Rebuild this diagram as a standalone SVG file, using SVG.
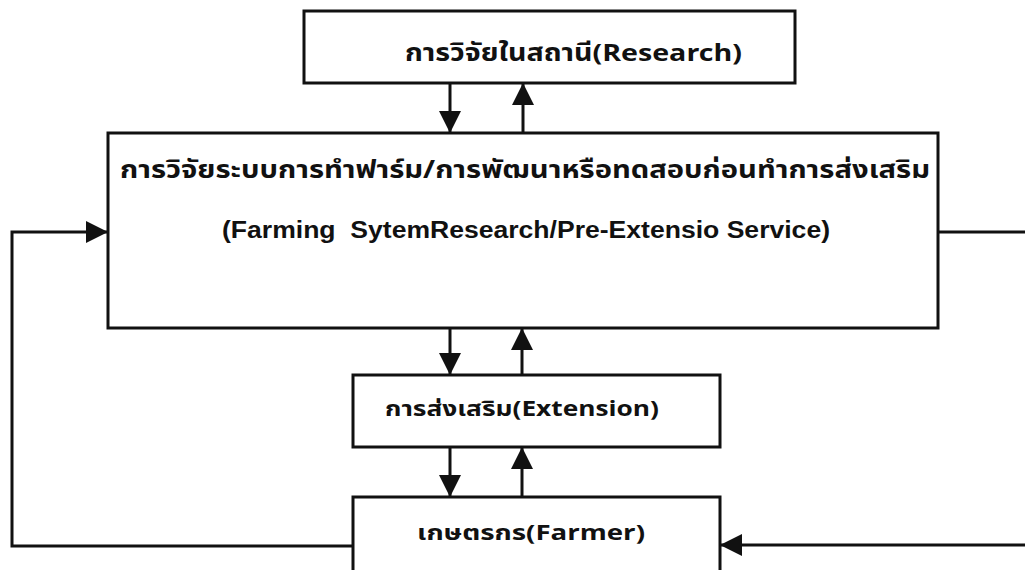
<svg xmlns="http://www.w3.org/2000/svg" width="1025" height="570" viewBox="0 0 1025 570">
<style>
.box{fill:#fff;stroke:#111;stroke-width:3}
.ln{fill:none;stroke:#111;stroke-width:3}
.th{font-family:"Noto Sans Thai","Noto Sans","DejaVu Sans","Liberation Sans",sans-serif;font-weight:bold;fill:#111}
.en{font-family:"Liberation Sans",Arial,sans-serif;font-weight:bold;fill:#111}
</style>
<defs>
<marker id="ah" viewBox="0 0 22 22" refX="22" refY="11" markerWidth="22" markerHeight="22" markerUnits="userSpaceOnUse" orient="auto">
<path d="M0,0 L22,11 L0,22 Z" fill="#111"/>
</marker>
</defs>
<rect width="1025" height="570" fill="#fff"/>
<g id="connectors">
<line class="ln" x1="450" y1="83" x2="450" y2="133" marker-end="url(#ah)"/>
<line class="ln" x1="523" y1="133" x2="523" y2="83" marker-end="url(#ah)"/>
<line class="ln" x1="450" y1="328" x2="450" y2="375" marker-end="url(#ah)"/>
<line class="ln" x1="522" y1="375" x2="522" y2="328" marker-end="url(#ah)"/>
<line class="ln" x1="450" y1="447" x2="450" y2="497" marker-end="url(#ah)"/>
<line class="ln" x1="522" y1="497" x2="522" y2="447" marker-end="url(#ah)"/>
<polyline class="ln" points="353,546 12,546 12,232 108,232" marker-end="url(#ah)"/>
<line class="ln" x1="938" y1="232" x2="1025" y2="232"/>
<line class="ln" x1="1025" y1="545" x2="720" y2="545" marker-end="url(#ah)"/>
</g>
<g id="research">
<rect class="box" x="304" y="11" width="491" height="72"/>
<text class="th" x="405" y="61" font-size="24" textLength="337" lengthAdjust="spacingAndGlyphs">การวิจัยในสถานี(Research)</text>
</g>
<g id="fsr">
<rect class="box" x="108" y="133" width="830" height="195"/>
<text class="th" x="120" y="178" font-size="25" textLength="810" lengthAdjust="spacingAndGlyphs">การวิจัยระบบการทำฟาร์ม/การพัฒนาหรือทดสอบก่อนทำการส่งเสริม</text>
<text class="en" x="222" y="238" font-size="23" xml:space="preserve" textLength="608" lengthAdjust="spacingAndGlyphs">(Farming  SytemResearch/Pre-Extensio Service)</text>
</g>
<g id="extension">
<rect class="box" x="353" y="375" width="367" height="72"/>
<text class="th" x="385" y="416" font-size="22" textLength="274" lengthAdjust="spacingAndGlyphs">การส่งเสริม(Extension)</text>
</g>
<g id="farmer">
<rect class="box" x="353" y="497" width="367" height="90"/>
<text class="th" x="417" y="540" font-size="22" textLength="228" lengthAdjust="spacingAndGlyphs">เกษตรกร(Farmer)</text>
</g>
</svg>
